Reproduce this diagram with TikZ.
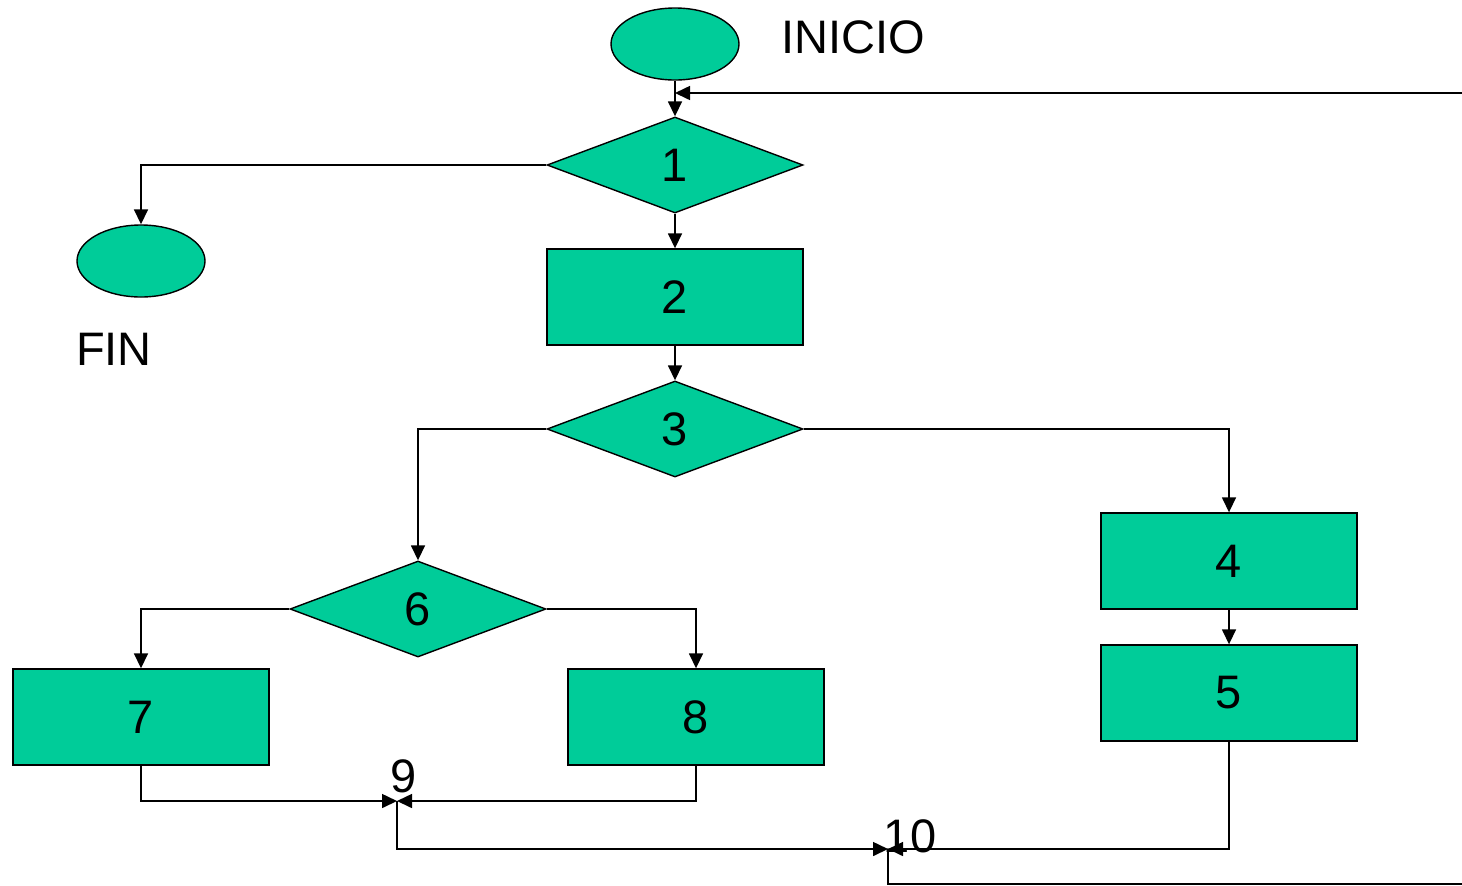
\documentclass[tikz,border=0pt]{standalone}
\usepackage{fontspec}
\setmainfont{Liberation Sans}
\usepackage{tikz}
\usetikzlibrary{shapes.geometric, arrows.meta, positioning, calc}
\definecolor{flowgreen}{HTML}{00CC99}

\begin{document}
\begin{tikzpicture}[x=0.5pt, y=-0.5pt,
  every node/.style={font=\fontsize{23.5}{27}\selectfont},
  procbox/.style={rectangle, draw=black, fill=flowgreen, line width=0.7pt,
                  minimum width=128pt, minimum height=48pt, inner sep=0pt},
  testbox/.style={diamond, draw=black, fill=flowgreen, line width=0.7pt,
                  aspect=2.667, minimum width=128pt, minimum height=48pt, inner sep=0pt},
  termbox/.style={ellipse, draw=black, fill=flowgreen, line width=0.7pt,
                  minimum width=64pt, minimum height=36pt, inner sep=0pt},
  flow/.style={line width=0.8pt, -{Triangle[length=7.5pt, width=7pt]}},
  plain/.style={line width=0.8pt}]
\useasboundingbox (0,0) rectangle (1462,885);

% terminals
\node[termbox] (inicio) at (675,44) {};
\node at (853,37) {INICIO};
\node[termbox] (fin) at (141,261) {};
\node at (114,349) {FIN};

% main column
\node[testbox] (d1) at (675,165) {1};
\node[procbox] (p2) at (675,297) {2};
\node[testbox] (d3) at (675,429) {3};

% right branch
\node[procbox] (p4) at (1229,561) {4};
\node[procbox] (p5) at (1229,693) {5};

% left branch
\node[testbox] (d6) at (418,609) {6};
\node[procbox] (p7) at (141,717) {7};
\node[procbox] (p8) at (696,717) {8};

% junction points
\coordinate (j9) at (397,801);
\coordinate (j10) at (888,849);
\node at (404,776) {9};
\node at (910,836) {10};
\coordinate (loopin) at (1462,93);
\coordinate (loopout) at (1462,884);

% connectors
\draw[flow] (inicio) -- (d1);
\draw[flow] (loopin) -- (inicio.south |- loopin);
\draw[flow] (d1.west) -| (fin.north);
\draw[flow] (d1) -- (p2);
\draw[flow] (p2) -- (d3);
\draw[flow] (d3.west) -| (d6.north);
\draw[flow] (d3.east) -| (p4.north);
\draw[flow] (p4) -- (p5);
\draw[flow] (d6.west) -| (p7.north);
\draw[flow] (d6.east) -| (p8.north);
\draw[flow] (p7.south) |- (j9);
\draw[flow] (p8.south) |- (j9);
\draw[flow] (j9) |- (j10);
\draw[flow] (p5.south) |- (j10);
\draw[plain] (j10) |- (loopout);
\end{tikzpicture}
\end{document}
